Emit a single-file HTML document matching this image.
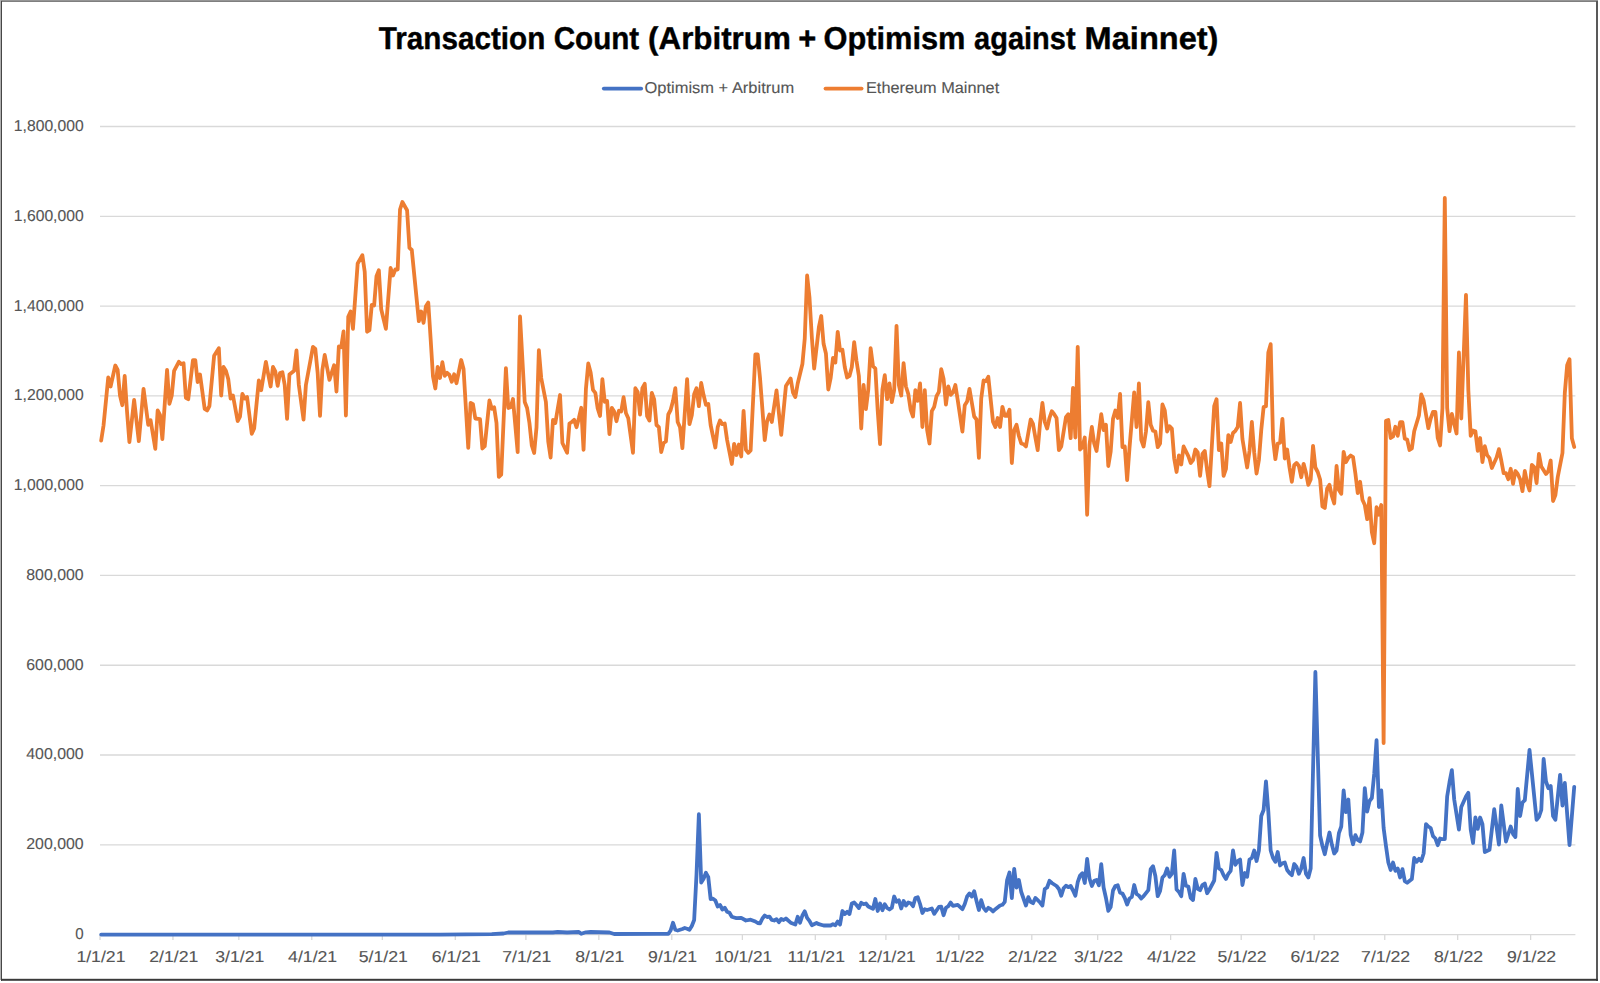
<!DOCTYPE html>
<html lang="en"><head><meta charset="utf-8"><title>Transaction Count (Arbitrum + Optimism against Mainnet)</title>
<style>html,body{margin:0;padding:0;background:#fff;}body{width:1600px;height:983px;overflow:hidden;}svg{display:block;}text{font-family:"Liberation Sans", sans-serif;text-rendering:geometricPrecision;}</style></head><body>
<svg width="1600" height="983" viewBox="0 0 1600 983">
<rect x="0" y="0" width="1600" height="983" fill="#fff"/>
<g shape-rendering="crispEdges">
<rect x="0" y="0" width="1598" height="1" fill="#959595"/>
<rect x="0" y="1" width="1598" height="1" fill="#7f7f7f"/>
<rect x="0" y="0" width="1" height="980" fill="#b0b0b0"/>
<rect x="1" y="1" width="1" height="980" fill="#474747"/>
<rect x="1596" y="1" width="2" height="980" fill="#595959"/>
</g>
<rect x="1" y="978.8" width="1597" height="2" fill="#3a3a3a"/>
<g stroke="#d9d9d9" stroke-width="1.3" fill="none">
<line x1="100.0" y1="934.60" x2="1575.4" y2="934.60"/>
<line x1="100.0" y1="844.81" x2="1575.4" y2="844.81"/>
<line x1="100.0" y1="755.02" x2="1575.4" y2="755.02"/>
<line x1="100.0" y1="665.23" x2="1575.4" y2="665.23"/>
<line x1="100.0" y1="575.44" x2="1575.4" y2="575.44"/>
<line x1="100.0" y1="485.66" x2="1575.4" y2="485.66"/>
<line x1="100.0" y1="395.87" x2="1575.4" y2="395.87"/>
<line x1="100.0" y1="306.08" x2="1575.4" y2="306.08"/>
<line x1="100.0" y1="216.29" x2="1575.4" y2="216.29"/>
<line x1="100.0" y1="126.50" x2="1575.4" y2="126.50"/>
<line x1="100.00" y1="934.60" x2="100.00" y2="940.00"/>
<line x1="172.94" y1="934.60" x2="172.94" y2="940.00"/>
<line x1="238.83" y1="934.60" x2="238.83" y2="940.00"/>
<line x1="311.77" y1="934.60" x2="311.77" y2="940.00"/>
<line x1="382.36" y1="934.60" x2="382.36" y2="940.00"/>
<line x1="455.30" y1="934.60" x2="455.30" y2="940.00"/>
<line x1="525.89" y1="934.60" x2="525.89" y2="940.00"/>
<line x1="598.84" y1="934.60" x2="598.84" y2="940.00"/>
<line x1="671.78" y1="934.60" x2="671.78" y2="940.00"/>
<line x1="742.37" y1="934.60" x2="742.37" y2="940.00"/>
<line x1="815.31" y1="934.60" x2="815.31" y2="940.00"/>
<line x1="885.90" y1="934.60" x2="885.90" y2="940.00"/>
<line x1="958.85" y1="934.60" x2="958.85" y2="940.00"/>
<line x1="1031.79" y1="934.60" x2="1031.79" y2="940.00"/>
<line x1="1097.67" y1="934.60" x2="1097.67" y2="940.00"/>
<line x1="1170.62" y1="934.60" x2="1170.62" y2="940.00"/>
<line x1="1241.21" y1="934.60" x2="1241.21" y2="940.00"/>
<line x1="1314.15" y1="934.60" x2="1314.15" y2="940.00"/>
<line x1="1384.74" y1="934.60" x2="1384.74" y2="940.00"/>
<line x1="1457.68" y1="934.60" x2="1457.68" y2="940.00"/>
<line x1="1530.62" y1="934.60" x2="1530.62" y2="940.00"/>
</g>
<g fill="#555555" stroke="#555555" stroke-width="0.12" font-size="15.8px">
<text x="75.3" y="939.0" textLength="8.4" lengthAdjust="spacingAndGlyphs">0</text>
<text x="26.2" y="849.2" textLength="57.5" lengthAdjust="spacingAndGlyphs">200,000</text>
<text x="26.2" y="759.4" textLength="57.5" lengthAdjust="spacingAndGlyphs">400,000</text>
<text x="26.2" y="669.6" textLength="57.5" lengthAdjust="spacingAndGlyphs">600,000</text>
<text x="26.2" y="579.8" textLength="57.5" lengthAdjust="spacingAndGlyphs">800,000</text>
<text x="13.8" y="490.1" textLength="69.9" lengthAdjust="spacingAndGlyphs">1,000,000</text>
<text x="13.8" y="400.3" textLength="69.9" lengthAdjust="spacingAndGlyphs">1,200,000</text>
<text x="13.8" y="310.5" textLength="69.9" lengthAdjust="spacingAndGlyphs">1,400,000</text>
<text x="13.8" y="220.7" textLength="69.9" lengthAdjust="spacingAndGlyphs">1,600,000</text>
<text x="13.8" y="130.9" textLength="69.9" lengthAdjust="spacingAndGlyphs">1,800,000</text>
<text x="76.4" y="962.2" textLength="49.1" lengthAdjust="spacingAndGlyphs">1/1/21</text>
<text x="149.3" y="962.2" textLength="49.1" lengthAdjust="spacingAndGlyphs">2/1/21</text>
<text x="215.2" y="962.2" textLength="49.1" lengthAdjust="spacingAndGlyphs">3/1/21</text>
<text x="288.1" y="962.2" textLength="49.1" lengthAdjust="spacingAndGlyphs">4/1/21</text>
<text x="358.7" y="962.2" textLength="49.1" lengthAdjust="spacingAndGlyphs">5/1/21</text>
<text x="431.7" y="962.2" textLength="49.1" lengthAdjust="spacingAndGlyphs">6/1/21</text>
<text x="502.2" y="962.2" textLength="49.1" lengthAdjust="spacingAndGlyphs">7/1/21</text>
<text x="575.2" y="962.2" textLength="49.1" lengthAdjust="spacingAndGlyphs">8/1/21</text>
<text x="648.1" y="962.2" textLength="49.1" lengthAdjust="spacingAndGlyphs">9/1/21</text>
<text x="714.5" y="962.2" textLength="57.6" lengthAdjust="spacingAndGlyphs">10/1/21</text>
<text x="787.4" y="962.2" textLength="57.6" lengthAdjust="spacingAndGlyphs">11/1/21</text>
<text x="858.0" y="962.2" textLength="57.6" lengthAdjust="spacingAndGlyphs">12/1/21</text>
<text x="935.2" y="962.2" textLength="49.1" lengthAdjust="spacingAndGlyphs">1/1/22</text>
<text x="1008.1" y="962.2" textLength="49.1" lengthAdjust="spacingAndGlyphs">2/1/22</text>
<text x="1074.0" y="962.2" textLength="49.1" lengthAdjust="spacingAndGlyphs">3/1/22</text>
<text x="1147.0" y="962.2" textLength="49.1" lengthAdjust="spacingAndGlyphs">4/1/22</text>
<text x="1217.6" y="962.2" textLength="49.1" lengthAdjust="spacingAndGlyphs">5/1/22</text>
<text x="1290.5" y="962.2" textLength="49.1" lengthAdjust="spacingAndGlyphs">6/1/22</text>
<text x="1361.1" y="962.2" textLength="49.1" lengthAdjust="spacingAndGlyphs">7/1/22</text>
<text x="1434.0" y="962.2" textLength="49.1" lengthAdjust="spacingAndGlyphs">8/1/22</text>
<text x="1507.0" y="962.2" textLength="49.1" lengthAdjust="spacingAndGlyphs">9/1/22</text>
</g>
<polyline fill="none" stroke="#4472c4" stroke-width="3.8" stroke-linejoin="round" stroke-linecap="round" points="101.18,934.6 440.02,934.6 491.79,934.2 503.56,933.5 508.26,932.5 552.97,932.5 557.68,932.0 567.09,932.5 578.86,932.0 581.21,933.8 585.92,932.3 590.62,932.0 609.45,932.5 614.15,934.0 656.51,933.8 668.28,933.8 670.63,930.5 672.98,922.7 675.34,929.8 677.69,930.5 682.39,929.0 684.75,928.0 687.10,928.7 689.45,929.8 691.81,926.0 694.16,920.0 696.51,874.6 698.87,814.2 701.22,882.5 703.57,878.8 705.93,872.8 708.28,877.2 710.63,899.0 712.99,898.7 715.34,900.5 717.69,906.5 720.04,905.0 722.40,909.5 724.75,907.7 727.10,911.8 729.46,912.8 731.81,916.7 736.52,918.2 741.22,917.8 745.93,920.5 750.63,919.7 755.34,921.5 757.69,923.0 760.05,923.3 762.40,918.5 764.75,915.5 767.11,917.0 769.46,916.7 771.81,920.0 774.17,920.5 776.52,919.2 778.87,922.2 781.23,919.0 783.58,920.0 785.93,918.5 790.64,922.7 795.34,924.5 797.70,916.7 800.05,922.7 802.40,915.5 804.76,911.3 807.11,917.8 809.46,920.8 811.82,925.2 816.52,923.0 818.88,924.2 823.58,925.5 830.64,925.5 832.99,924.2 835.35,925.2 837.70,921.5 840.05,924.5 842.41,911.0 844.76,914.0 847.11,911.8 849.47,914.0 851.82,903.5 854.17,902.5 856.52,905.0 858.88,908.0 861.23,902.8 863.58,904.2 865.94,903.5 868.29,906.5 873.00,908.8 875.35,899.0 877.70,911.0 880.06,903.5 882.41,910.2 884.76,904.2 887.12,908.0 889.47,909.5 891.82,907.8 894.17,896.5 896.53,901.8 898.88,900.2 901.23,908.5 903.59,901.0 905.94,905.5 908.29,902.5 910.65,903.2 913.00,906.2 915.35,898.0 917.71,897.2 920.06,904.0 922.41,913.0 924.77,909.2 927.12,910.0 931.82,908.5 934.18,913.8 938.88,907.0 941.24,906.7 943.59,915.2 945.94,907.8 948.30,906.2 950.65,902.5 953.00,905.8 957.71,904.8 962.41,909.2 964.77,904.0 967.12,896.5 969.47,893.5 971.83,896.5 974.18,891.2 976.53,901.0 978.89,910.0 981.24,900.2 983.59,907.8 985.95,910.8 988.30,907.8 990.65,909.2 993.01,911.5 995.36,909.2 1000.06,905.5 1002.42,904.8 1004.77,901.8 1007.12,880.0 1009.48,872.5 1011.83,898.0 1014.18,868.8 1016.54,887.5 1018.89,880.0 1021.24,892.0 1025.95,905.5 1028.30,897.2 1030.66,901.8 1033.01,903.2 1035.36,898.0 1037.71,900.2 1040.07,902.5 1042.42,905.5 1044.77,889.0 1047.13,887.5 1049.48,880.8 1051.83,883.0 1056.54,886.0 1058.89,889.0 1061.25,895.8 1063.60,888.2 1065.95,885.7 1068.30,887.2 1070.66,886.0 1073.01,890.5 1075.36,895.8 1077.72,882.2 1080.07,875.5 1082.42,873.2 1084.78,883.0 1087.13,859.0 1089.48,878.5 1091.84,886.0 1094.19,880.8 1096.54,880.0 1098.90,885.2 1101.25,864.2 1103.60,887.5 1105.95,898.0 1108.31,910.8 1110.66,907.0 1113.01,890.5 1115.37,886.0 1117.72,885.2 1120.07,892.8 1122.43,893.5 1124.78,898.0 1127.13,904.5 1129.49,898.5 1131.84,897.0 1134.19,885.0 1136.54,894.0 1138.90,895.5 1141.25,898.5 1143.60,896.2 1148.31,890.2 1150.66,869.2 1153.02,866.2 1155.37,876.0 1157.72,896.2 1160.08,891.0 1162.43,877.5 1164.78,875.2 1167.14,868.5 1169.49,876.8 1171.84,873.8 1174.19,850.5 1176.55,889.5 1178.90,891.8 1181.25,896.2 1183.61,873.8 1185.96,885.8 1188.31,886.5 1190.67,897.8 1193.02,900.0 1195.37,879.0 1197.73,888.8 1200.08,890.2 1202.43,885.0 1204.79,883.5 1207.14,893.2 1209.49,889.5 1214.20,880.5 1216.55,852.8 1218.90,868.5 1221.26,870.0 1223.61,875.2 1225.96,879.0 1228.32,873.8 1230.67,870.8 1233.02,850.5 1235.38,864.8 1237.73,861.0 1240.08,859.5 1242.43,885.0 1244.79,873.0 1247.14,876.8 1249.49,859.5 1251.85,858.0 1254.20,850.5 1256.55,861.0 1258.91,850.5 1261.26,816.0 1263.61,810.0 1265.97,781.5 1268.32,811.5 1270.67,850.5 1273.03,858.0 1275.38,861.8 1277.73,852.0 1280.08,865.5 1282.44,863.2 1284.79,862.5 1287.14,870.0 1289.50,873.0 1291.85,875.2 1294.20,864.0 1296.56,867.0 1298.91,873.8 1301.26,868.5 1303.62,858.0 1305.97,873.8 1308.32,877.5 1310.68,868.5 1315.38,672.0 1320.09,835.5 1322.44,846.0 1324.79,854.2 1327.15,843.0 1329.50,832.5 1331.85,844.5 1334.21,853.5 1336.56,850.5 1338.91,833.2 1341.27,826.5 1343.62,790.5 1345.97,812.2 1348.32,799.5 1350.68,834.8 1353.03,844.2 1355.38,835.2 1357.74,840.0 1360.09,841.5 1362.44,832.5 1364.80,788.2 1367.15,811.5 1369.50,801.0 1371.86,798.0 1374.21,774.0 1376.56,740.2 1378.92,807.0 1381.27,790.5 1383.62,828.0 1385.97,846.0 1388.33,862.5 1390.68,870.0 1393.03,862.5 1395.39,870.8 1397.74,868.5 1400.09,877.5 1402.45,869.2 1404.80,881.2 1407.15,882.8 1411.86,879.0 1414.21,858.0 1416.57,861.8 1418.92,858.8 1421.27,861.0 1423.62,853.5 1425.98,824.2 1428.33,826.5 1430.68,828.0 1433.04,836.2 1435.39,838.5 1437.74,845.2 1440.10,838.5 1442.45,839.2 1444.80,839.2 1447.16,796.5 1449.51,782.2 1451.86,770.2 1454.21,799.5 1458.92,829.5 1461.27,807.0 1465.98,796.5 1468.33,792.8 1470.69,829.5 1473.04,843.0 1475.39,817.5 1477.75,828.8 1480.10,817.5 1482.45,824.2 1484.81,852.0 1489.51,849.8 1491.86,829.5 1494.22,809.2 1498.92,844.5 1501.28,805.5 1505.98,841.5 1510.69,826.5 1513.04,834.0 1515.40,837.0 1517.75,789.0 1520.10,816.0 1522.46,802.5 1524.81,800.2 1529.51,750.0 1536.57,819.8 1538.93,816.8 1541.28,810.0 1543.63,759.0 1545.99,781.5 1548.34,788.2 1550.69,786.0 1553.05,816.0 1555.40,819.8 1560.10,774.8 1562.46,805.5 1564.81,783.0 1569.52,845.2 1574.22,786.8"/>
<polyline fill="none" stroke="#ed7d31" stroke-width="3.8" stroke-linejoin="round" stroke-linecap="round" points="101.18,440.5 103.53,425.5 108.24,377.5 110.59,386.5 115.30,365.5 117.65,370.0 120.00,395.5 122.35,405.2 124.71,376.0 127.06,412.0 129.41,442.0 134.12,400.0 138.83,441.2 143.53,388.8 148.24,424.8 150.59,420.2 155.30,448.8 157.65,410.5 160.00,415.0 162.36,439.0 167.06,370.0 169.42,403.8 171.77,395.5 174.12,370.8 178.83,361.8 181.18,364.0 183.54,363.2 185.89,397.8 188.24,399.2 192.95,360.2 195.30,360.2 197.65,382.0 200.01,374.5 204.71,409.0 207.07,410.5 209.42,406.0 214.13,355.8 218.83,348.2 221.19,395.5 223.54,367.0 225.89,370.8 228.24,379.0 230.60,398.5 232.95,395.5 237.66,421.0 240.01,416.5 242.36,394.0 244.72,398.5 247.07,397.0 251.78,433.8 254.13,428.5 258.83,380.5 261.19,390.2 265.89,361.8 268.25,374.5 270.60,386.5 272.95,367.0 275.31,371.5 277.66,385.8 280.01,373.0 282.37,372.2 284.72,385.0 287.07,418.8 289.43,374.5 294.13,370.8 296.48,350.5 298.84,385.0 303.54,419.5 305.90,385.0 312.96,346.8 315.31,349.0 317.66,373.0 320.02,415.8 322.37,370.0 324.72,355.0 329.43,379.8 334.13,365.2 336.49,391.5 338.84,346.5 341.19,347.2 343.55,331.5 345.90,415.5 348.25,316.8 350.61,311.5 352.96,328.8 357.67,263.5 362.37,255.2 364.72,271.8 367.08,331.8 369.43,330.2 371.78,304.8 374.14,305.5 376.49,276.2 378.84,270.2 381.20,309.2 385.90,328.8 390.61,268.0 392.96,275.5 395.32,269.5 397.67,269.5 400.02,209.5 402.37,202.0 407.08,210.2 409.43,247.8 411.79,250.0 418.85,321.2 421.20,311.5 423.55,322.8 425.91,306.2 428.26,302.5 430.61,338.5 432.97,376.5 435.32,388.5 437.67,366.8 440.02,378.0 442.38,362.2 444.73,375.8 447.08,372.8 449.44,375.0 451.79,381.8 454.14,374.2 456.50,383.2 461.20,360.0 463.56,369.0 468.26,447.8 470.61,402.8 472.97,404.2 475.32,418.5 480.03,419.2 482.38,448.5 484.73,446.2 489.44,400.5 491.79,408.8 494.15,407.2 496.50,423.0 498.85,476.9 501.21,474.6 505.91,368.2 508.26,408.0 510.62,407.2 512.97,399.0 517.68,452.2 520.03,316.5 524.74,402.0 527.09,408.0 529.44,423.0 531.80,445.5 534.15,453.0 536.50,427.5 538.86,350.2 541.21,378.0 543.56,390.0 545.91,402.0 548.27,441.8 550.62,457.5 552.97,420.0 555.33,423.0 560.03,395.0 562.39,443.0 567.09,452.8 569.45,423.5 571.80,422.0 574.15,419.8 576.50,427.2 578.86,418.2 581.21,407.8 583.56,449.8 585.92,389.0 588.27,363.5 590.62,372.5 592.98,389.8 595.33,392.8 597.68,408.5 600.04,416.0 602.39,379.2 604.74,401.8 607.10,401.0 609.45,434.0 611.80,407.8 614.15,411.5 616.51,421.2 618.86,410.8 621.21,411.5 623.57,397.2 625.92,413.0 628.27,418.2 632.98,452.8 635.33,388.2 637.69,392.0 640.04,414.5 642.39,388.2 644.74,383.8 647.10,416.0 649.45,420.5 651.80,392.8 654.16,399.5 656.51,425.0 658.86,427.2 661.22,452.0 663.57,443.0 665.92,441.5 668.28,414.5 670.63,410.0 672.98,401.0 675.34,388.2 677.69,422.0 680.04,427.2 682.39,448.2 687.10,379.2 689.45,424.2 691.81,415.2 694.16,394.2 696.51,388.2 698.87,406.2 701.22,383.0 703.57,395.0 705.93,404.8 708.28,404.0 710.63,425.0 715.34,447.5 717.69,427.2 720.04,420.5 722.40,424.2 724.75,423.5 727.10,440.0 731.81,464.0 734.16,443.8 736.52,455.0 738.87,444.5 741.22,456.5 743.58,410.8 745.93,449.8 748.28,452.8 750.63,450.5 755.34,354.5 757.69,354.5 760.05,378.5 764.75,440.0 767.11,421.2 769.46,414.5 771.81,422.0 776.52,390.5 781.23,434.8 785.93,386.0 790.64,378.5 792.99,392.5 795.34,397.0 797.70,383.5 802.40,364.0 804.76,338.5 807.11,275.5 809.46,297.2 811.82,337.0 814.17,368.5 818.88,327.2 821.23,316.0 823.58,343.8 825.93,353.5 828.29,389.5 830.64,378.2 832.99,358.0 835.35,362.5 837.70,331.8 840.05,350.5 842.41,349.8 844.76,367.0 847.11,377.5 849.47,376.0 851.82,367.0 854.17,342.2 856.52,361.0 858.88,376.0 861.23,428.5 863.58,385.0 865.94,409.0 868.29,389.5 870.64,348.2 873.00,366.2 875.35,368.5 877.70,410.5 880.06,444.2 882.41,389.5 884.76,375.2 887.12,399.2 889.47,383.5 891.82,402.2 894.17,390.2 896.53,325.8 898.88,385.0 901.23,395.5 903.59,363.2 905.94,386.5 908.29,394.0 910.65,409.8 913.00,416.5 915.35,390.2 917.71,400.8 920.06,383.5 922.41,427.0 924.77,390.2 927.12,430.0 929.47,443.5 931.82,411.2 934.18,406.8 936.53,396.2 938.88,391.8 941.24,369.2 943.59,379.0 945.94,404.5 948.30,386.5 950.65,394.8 953.00,392.5 955.36,385.0 957.71,400.0 962.41,431.5 964.77,405.2 967.12,401.5 969.47,388.8 974.18,416.5 976.53,419.5 978.89,457.8 981.24,398.5 983.59,380.5 985.95,381.2 988.30,376.8 993.01,421.8 995.36,427.0 997.71,418.0 1000.06,427.0 1002.42,406.8 1004.77,415.8 1007.12,415.8 1009.48,409.8 1011.83,463.0 1014.18,430.0 1016.54,424.8 1018.89,436.0 1021.24,443.5 1023.60,444.2 1025.95,446.5 1030.66,419.5 1033.01,424.0 1035.36,437.5 1037.71,450.2 1040.07,423.2 1042.42,403.0 1044.77,421.8 1047.13,428.5 1049.48,418.0 1051.83,411.2 1054.19,414.2 1056.54,418.0 1058.89,450.2 1061.25,446.5 1065.95,417.2 1068.30,414.2 1070.66,438.2 1073.01,388.0 1075.36,437.5 1077.72,346.8 1080.07,449.5 1082.42,447.2 1084.78,437.5 1087.13,514.8 1089.48,445.0 1091.84,427.0 1094.19,443.5 1096.54,451.0 1101.25,414.2 1103.60,430.0 1105.95,424.8 1108.31,466.0 1110.66,451.8 1113.01,418.8 1115.37,410.5 1117.72,418.0 1120.07,394.0 1122.43,447.2 1124.78,446.5 1127.13,480.2 1129.49,448.0 1134.19,392.5 1136.54,427.0 1138.90,383.5 1141.25,439.8 1143.60,446.5 1145.96,431.5 1148.31,402.2 1150.66,424.8 1153.02,430.8 1155.37,431.5 1157.72,447.2 1160.08,443.5 1162.43,404.5 1164.78,410.5 1167.14,431.5 1169.49,426.2 1171.84,428.5 1174.19,458.5 1176.55,472.0 1178.90,455.5 1181.25,464.5 1183.61,446.5 1188.31,456.2 1190.67,463.0 1193.02,460.0 1195.37,449.5 1197.73,452.5 1200.08,475.8 1202.43,454.0 1204.79,451.0 1207.14,470.5 1209.49,486.2 1214.20,406.0 1216.55,399.2 1218.90,450.2 1221.26,443.5 1223.61,475.8 1225.96,469.0 1228.32,435.2 1230.67,442.0 1233.02,433.0 1235.38,430.8 1237.73,427.0 1240.08,403.0 1242.43,439.0 1247.14,467.5 1249.49,451.0 1251.85,421.8 1254.20,452.5 1256.55,473.5 1258.91,460.0 1261.26,430.0 1263.61,407.1 1265.97,406.3 1268.32,352.4 1270.67,344.2 1273.03,439.0 1275.38,459.2 1277.73,443.5 1280.08,442.8 1282.44,418.8 1284.79,458.5 1287.14,449.5 1289.50,467.5 1291.85,481.8 1294.20,465.2 1296.56,463.0 1298.91,466.0 1301.26,477.2 1303.62,463.8 1305.97,472.8 1308.32,484.8 1310.68,479.5 1313.03,445.8 1315.38,467.5 1317.73,472.0 1320.09,479.5 1322.44,506.5 1324.79,508.0 1327.15,488.5 1329.50,484.8 1331.85,496.0 1334.21,503.5 1336.56,466.0 1338.91,490.0 1341.27,493.8 1343.62,451.8 1345.97,462.2 1348.32,457.8 1350.68,455.5 1353.03,457.0 1355.38,473.5 1357.74,493.0 1360.09,481.8 1362.44,499.8 1364.80,505.0 1367.15,519.2 1369.50,498.2 1371.86,532.0 1374.21,543.2 1376.56,507.2 1378.92,514.8 1381.27,505.0 1383.62,743.0 1385.97,420.8 1388.33,420.0 1390.68,438.0 1393.03,436.5 1395.39,426.8 1397.74,435.8 1400.09,422.2 1402.45,422.2 1404.80,438.8 1407.15,439.5 1409.51,450.0 1411.86,448.5 1414.21,431.2 1418.92,415.5 1421.27,394.5 1423.62,400.5 1428.33,428.2 1430.68,418.5 1433.04,411.8 1435.39,411.8 1437.74,438.0 1440.10,445.5 1442.45,408.0 1444.80,198.0 1447.16,408.0 1449.51,431.2 1451.86,414.0 1454.21,423.8 1456.57,433.5 1458.92,352.5 1461.27,418.5 1465.98,294.8 1468.33,390.0 1470.69,435.8 1473.04,430.5 1475.39,431.2 1477.75,450.8 1480.10,438.0 1482.45,462.0 1484.81,446.2 1487.16,455.2 1489.51,458.2 1491.86,468.0 1496.57,457.5 1498.92,449.2 1501.28,460.5 1503.63,473.2 1505.98,473.2 1508.34,479.2 1510.69,468.8 1513.04,483.8 1515.40,471.0 1517.75,474.0 1520.10,479.2 1522.46,491.2 1524.81,471.0 1527.16,483.0 1529.51,490.5 1531.87,465.0 1534.22,467.2 1536.57,483.0 1538.93,453.8 1541.28,466.5 1545.99,474.0 1548.34,471.0 1550.69,460.5 1553.05,501.0 1555.40,495.0 1557.75,477.0 1562.46,453.0 1564.81,393.0 1567.16,365.2 1569.52,359.2 1571.87,438.3 1574.22,447.0"/>
<g fill="#000" stroke="#000" stroke-width="0.4" font-weight="bold" font-size="31.5px">
<text y="48.5"><tspan x="378.81" textLength="166.47" lengthAdjust="spacingAndGlyphs">Transaction</tspan> <tspan x="553.69" textLength="85.52" lengthAdjust="spacingAndGlyphs">Count</tspan> <tspan x="648.09" textLength="142.74" lengthAdjust="spacingAndGlyphs">(Arbitrum</tspan> <tspan x="798.37" textLength="18.01" lengthAdjust="spacingAndGlyphs">+</tspan> <tspan x="823.53" textLength="141.99" lengthAdjust="spacingAndGlyphs">Optimism</tspan> <tspan x="974.08" textLength="101.46" lengthAdjust="spacingAndGlyphs">against</tspan> <tspan x="1084.62" textLength="133.83" lengthAdjust="spacingAndGlyphs">Mainnet)</tspan></text>
</g>
<line x1="603.8" y1="88.6" x2="641.2" y2="88.6" stroke="#4472c4" stroke-width="3.8" stroke-linecap="round"/>
<line x1="825.5" y1="88.6" x2="861.6" y2="88.6" stroke="#ed7d31" stroke-width="3.8" stroke-linecap="round"/>
<g fill="#555555" stroke="#555555" stroke-width="0.12" font-size="15.8px">
<text x="644.5" y="93.3" textLength="149.6" lengthAdjust="spacingAndGlyphs">Optimism + Arbitrum</text>
<text x="866.0" y="93.3" textLength="133.2" lengthAdjust="spacingAndGlyphs">Ethereum Mainnet</text>
</g>
</svg></body></html>
